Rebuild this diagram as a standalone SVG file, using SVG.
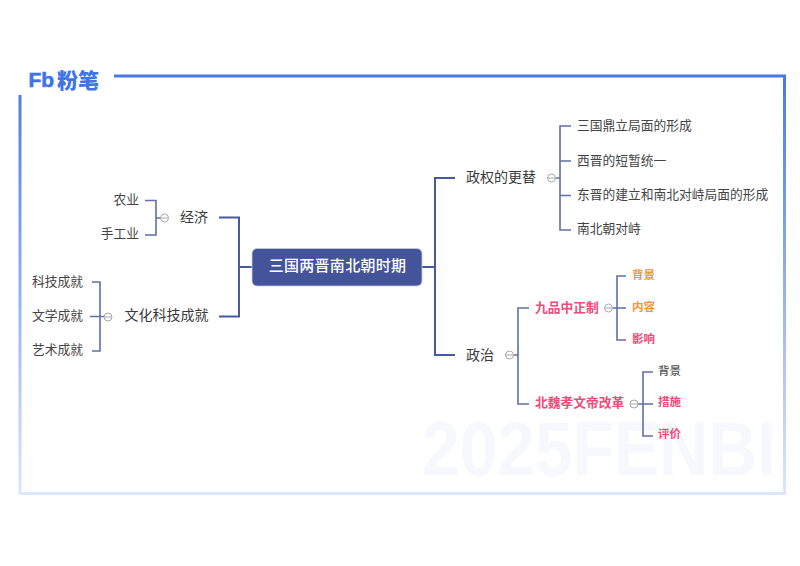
<svg xmlns="http://www.w3.org/2000/svg" width="800" height="566" viewBox="0 0 800 566">
<style>
text{font-family:"Noto Sans CJK SC","Liberation Sans",sans-serif;dominant-baseline:central}
.c1{fill:none;stroke:#465a9e;stroke-width:2}
.c2{fill:none;stroke:#5f70a8;stroke-width:1.600}
.b{font-size:14px;fill:#3a3a3a}
.l{font-size:12.750px;fill:#444}
.s{font-size:11.500px;font-weight:700}
.p{fill:#ee4b79}
.o{fill:#ef9440}
.g{fill:#555;font-weight:500}
.t{font-size:12.750px;font-weight:700;fill:#ee4b79}
.fold circle{fill:#fff;stroke:#a8a8a8;stroke-width:1}
.fold path{stroke:#a8a8a8;stroke-width:1;fill:none}
</style>
<defs>
<linearGradient id="bd" gradientUnits="userSpaceOnUse" x1="400" y1="76" x2="400" y2="494">
<stop offset="0" stop-color="#4a78e6"/><stop offset="1" stop-color="#dbe7fb"/>
</linearGradient>
</defs>
<rect width="800" height="566" fill="#fff"/>
<path d="M114 76H784.500V493.500H20V95" fill="none" stroke="url(#bd)" stroke-width="3"/>
<g id="logo">
<text x="28.500" y="79" font-size="21" font-weight="900" fill="#3f74e8" stroke="#3f74e8" stroke-width="0.600" style="font-family:'Liberation Sans',sans-serif">Fb</text>
<text x="57" y="79" font-size="21" font-weight="900" fill="#3f74e8">粉笔</text>
</g>
<text x="422" y="475" font-size="76" font-weight="700" fill="#f6f8fd" textLength="354" lengthAdjust="spacingAndGlyphs" style="font-family:'Liberation Sans',sans-serif;dominant-baseline:auto">2025FENBI</text>
<g id="connectors">
<path class="c1" d="M252 267H239M219 217.500H239V316.500H219"/>
<path class="c1" d="M422 267H435M455 178H435V355H455"/>
<path class="c2" d="M145 200.500H156V235H145M156 218H161"/>
<path class="c2" d="M92 282H100V351H92M90 316.500H104"/>
<path class="c2" d="M571 126H560V230H571M560 161H571M560 195.500H571M555 178H560"/>
<path class="c2" d="M529 308H518V404H529M514 355H518"/>
<path class="c2" d="M626 276H617V340H626M613 308H626"/>
<path class="c2" d="M653 372H643V436H653M638 404H653"/>
</g>
<g id="folds" class="fold">
<g><circle cx="164.500" cy="218" r="4"/><path d="M161 218H168"/></g>
<g><circle cx="108" cy="317" r="4"/><path d="M104.500 317H111.500"/></g>
<g><circle cx="551.500" cy="178" r="4"/><path d="M548 178H555"/></g>
<g><circle cx="509.500" cy="355" r="4"/><path d="M506 355H513"/></g>
<g><circle cx="608.500" cy="308" r="4"/><path d="M605 308H612"/></g>
<g><circle cx="634" cy="404" r="4"/><path d="M630.500 404H637.500"/></g>
</g>
<g id="root">
<rect x="252" y="248.500" width="170" height="37.500" rx="5" fill="#43549b" stroke="#c5cde6" stroke-width="0.800"/>
<text x="337.500" y="264" font-size="15" font-weight="500" fill="#fff" text-anchor="middle" letter-spacing="0.300">三国两晋南北朝时期</text>
</g>
<g id="n-jingji"><text class="b" x="194" y="215.500" text-anchor="middle">经济</text></g>
<g id="n-wenhua"><text class="b" x="166.500" y="314" text-anchor="middle">文化科技成就</text></g>
<g id="n-nongye"><text class="l" x="139" y="198.500" text-anchor="end">农业</text></g>
<g id="n-shougong"><text class="l" x="139" y="232.500" text-anchor="end">手工业</text></g>
<g id="n-keji"><text class="l" x="83" y="280" text-anchor="end">科技成就</text></g>
<g id="n-wenxue"><text class="l" x="83" y="314.500" text-anchor="end">文学成就</text></g>
<g id="n-yishu"><text class="l" x="83" y="348.500" text-anchor="end">艺术成就</text></g>
<g id="n-zhengquan"><text class="b" x="466" y="176">政权的更替</text></g>
<g id="n-zhengzhi"><text class="b" x="466" y="353.500">政治</text></g>
<g id="n-r1"><text class="l" x="577" y="124.500">三国鼎立局面的形成</text></g>
<g id="n-r2"><text class="l" x="577" y="159">西晋的短暂统一</text></g>
<g id="n-r3"><text class="l" x="577" y="193.500">东晋的建立和南北对峙局面的形成</text></g>
<g id="n-r4"><text class="l" x="577" y="227.500">南北朝对峙</text></g>
<g id="n-jiupin"><text class="t" x="535" y="306">九品中正制</text></g>
<g id="n-beiwei"><text class="t" x="535" y="401">北魏孝文帝改革</text></g>
<g id="n-a1"><text class="s o" x="632" y="274">背景</text></g>
<g id="n-a2"><text class="s o" x="632" y="306">内容</text></g>
<g id="n-a3"><text class="s p" x="632" y="338">影响</text></g>
<g id="n-b1"><text class="s g" x="658" y="369.500">背景</text></g>
<g id="n-b2"><text class="s p" x="658" y="401">措施</text></g>
<g id="n-b3"><text class="s p" x="658" y="433">评价</text></g>
</svg>
